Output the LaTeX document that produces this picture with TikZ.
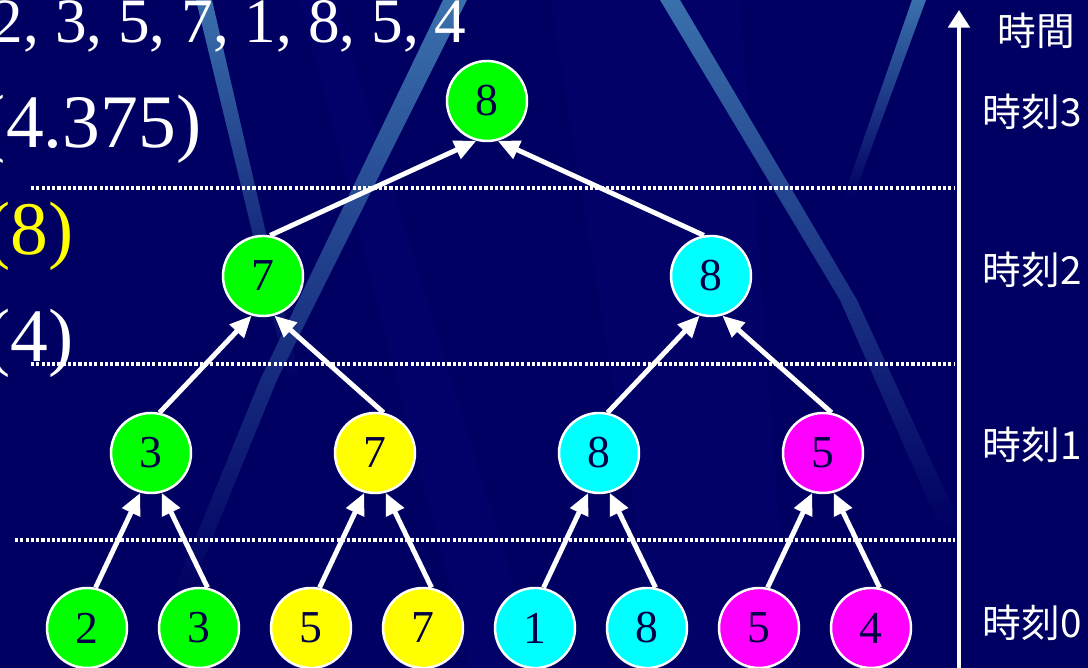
\documentclass[tikz,border=0pt]{standalone}
\usepackage{fontspec}
\setmainfont{Liberation Serif}
\newfontfamily\jpfont{Noto Sans CJK JP}
\usetikzlibrary{arrows.meta, positioning}

\definecolor{slidenavy}{RGB}{0,0,98}
\definecolor{slidenavyL}{RGB}{4,4,120}
\definecolor{streakblue}{RGB}{58,112,172}
\definecolor{numnavy}{RGB}{0,0,70}
\definecolor{valgreen}{RGB}{0,255,0}
\definecolor{valyellow}{RGB}{255,255,0}
\definecolor{valcyan}{RGB}{0,255,255}
\definecolor{valmagenta}{RGB}{255,0,255}

\begin{document}
\begin{tikzpicture}[
    val/.style={circle, draw=white, line width=0.7pt, minimum size=0.8cm, inner sep=0pt, text=numnavy, font=\fontsize{13}{15}\selectfont},
    gval/.style={val, fill=valgreen},
    yval/.style={val, fill=valyellow},
    cval/.style={val, fill=valcyan},
    mval/.style={val, fill=valmagenta},
    up/.style={draw=white, line width=1.4pt, -{Triangle[length=6.2pt, width=5.4pt]}},
    sep/.style={draw=white, line width=1pt, dash pattern=on 0.9pt off 0.6pt},
    timeaxis/.style={draw=white, line width=1.3pt, -{Triangle[length=5pt, width=6pt]}},
    tlabel/.style={text=white, inner sep=0pt, anchor=west, font=\jpfont\fontsize{11}{13}\selectfont},
    bigtext/.style={text=white, inner sep=0pt, anchor=base east, font=\fontsize{21.5}{24}\selectfont},
    streak/.style={shade, top color=streakblue, bottom color=slidenavy}
]
\useasboundingbox (0,0) rectangle (10.88,6.68);

% Slide background
\fill[slidenavy] (0,0) rectangle (10.88,6.68);
\fill[slidenavyL, opacity=0.35] (3.00,6.68) -- (3.35,6.68) -- (5.40,0) -- (4.70,0) -- cycle;
\fill[slidenavyL, opacity=0.3] (5.50,6.68) -- (7.40,6.68) -- (7.90,0) -- (6.60,0) -- cycle;

% Light streaks
\path[streak] (1.96,6.68) -- (2.12,6.68) -- (3.00,2.88) -- (2.88,2.88) -- cycle;
\path[streak] (4.43,6.68) -- (4.67,6.68) -- (2.77,2.88) -- (1.87,0.68) -- (1.70,0.68) -- (2.60,2.88) -- cycle;
\path[streak] (6.60,6.68) -- (6.80,6.68) -- (8.57,3.68) -- (9.62,1.40) -- (9.40,1.40) -- (8.40,3.68) -- cycle;
\path[streak] (9.12,6.68) -- (9.26,6.68) -- (8.53,4.70) -- (8.43,4.70) -- cycle;

% Time level separators
\draw[sep] (0.31,4.80) -- (9.55,4.80);
\draw[sep] (0.31,3.04) -- (9.55,3.04);
\draw[sep] (0.15,1.28) -- (9.55,1.28);

% Time axis
\coordinate (axisbot) at (9.59,-0.05);
\coordinate (axistop) at (9.59,6.58);
\draw[timeaxis] (axisbot) -- (axistop);
\node[tlabel] (tname) at (9.97,6.37) {時間};
\node[tlabel] (time3) at (9.82,5.56) {時刻3};
\node[tlabel] (time2) at (9.82,3.98) {時刻2};
\node[tlabel] (time1) at (9.82,2.23) {時刻1};
\node[tlabel] (time0) at (9.82,0.45) {時刻0};

% Input sequence and results
\node[bigtext, font=\fontsize{18}{21}\selectfont] (seq) at (4.67,6.25) {2, 3, 5, 7, 1, 8, 5, 4};
\node[bigtext] (avg) at (2.02,5.20) {(4.375)};
\node[bigtext, text=valyellow] (maxv) at (0.74,4.13) {(8)};
\node[bigtext] (cnt) at (0.74,3.06) {(4)};

% Time 0 (inputs)
\node[gval] (leaf1) at (0.87,0.40) {2};
\node[gval] (leaf2) at (1.99,0.40) {3};
\node[yval] (leaf3) at (3.11,0.40) {5};
\node[yval] (leaf4) at (4.23,0.40) {7};
\node[cval] (leaf5) at (5.35,0.40) {1};
\node[cval] (leaf6) at (6.47,0.40) {8};
\node[mval] (leaf7) at (7.59,0.40) {5};
\node[mval] (leaf8) at (8.71,0.40) {4};

% Time 1
\node[gval] (mid1) at (1.51,2.15) {3};
\node[yval] (mid2) at (3.75,2.15) {7};
\node[cval] (mid3) at (5.99,2.15) {8};
\node[mval] (mid4) at (8.23,2.15) {5};

% Time 2
\node[gval] (up1) at (2.63,3.92) {7};
\node[cval] (up2) at (7.11,3.92) {8};

% Time 3
\node[gval] (root) at (4.87,5.67) {8};

% Reduction arrows
\draw[up] (leaf1.78) -- (mid1.255);
\draw[up] (leaf2.78) -- (mid1.285);
\draw[up] (leaf3.78) -- (mid2.255);
\draw[up] (leaf4.78) -- (mid2.285);
\draw[up] (leaf5.78) -- (mid3.255);
\draw[up] (leaf6.78) -- (mid3.285);
\draw[up] (leaf7.78) -- (mid4.255);
\draw[up] (leaf8.78) -- (mid4.285);

\draw[up] (mid1.78) -- (up1.254);
\draw[up] (mid2.78) -- (up1.286);
\draw[up] (mid3.78) -- (up2.254);
\draw[up] (mid4.78) -- (up2.286);

\draw[up] (up1.80) -- (root.255);
\draw[up] (up2.100) -- (root.285);

\end{tikzpicture}
\end{document}
